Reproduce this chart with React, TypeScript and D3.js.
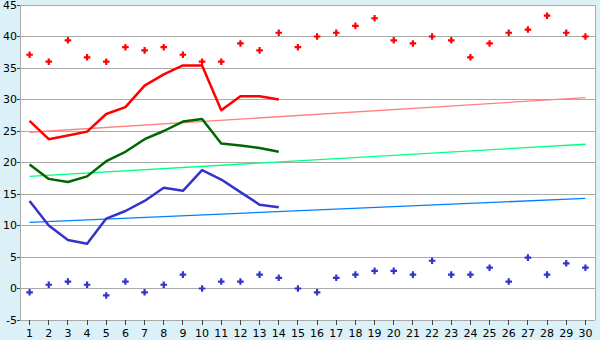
import React from "react";
import * as d3 from "d3";

const days: number[] = d3.range(1, 31);
const yTicks: number[] = [-5, 0, 5, 10, 15, 20, 25, 30, 35, 40, 45];

const maxPoints: number[] = [37.1, 36.0, 39.4, 36.7, 36.0, 38.3, 37.8, 38.3, 37.1, 36.0, 36.0, 38.9, 37.8, 40.6, 38.3, 40.0, 40.6, 41.7, 42.9, 39.4, 38.9, 40.0, 39.4, 36.7, 38.9, 40.6, 41.1, 43.3, 40.6, 40.0];
const minPoints: number[] = [-0.6, 0.6, 1.1, 0.6, -1.1, 1.1, -0.6, 0.6, 2.2, 0.0, 1.1, 1.1, 2.2, 1.7, 0.0, -0.6, 1.7, 2.2, 2.8, 2.8, 2.2, 4.4, 2.2, 2.2, 3.3, 1.1, 4.9, 2.2, 4.0, 3.3];
const redLine: number[] = [26.6, 23.7, 24.3, 24.9, 27.7, 28.8, 32.2, 34.0, 35.4, 35.4, 28.3, 30.5, 30.5, 30.0];
const greenLine: number[] = [19.7, 17.4, 16.9, 17.8, 20.2, 21.7, 23.7, 25.0, 26.5, 26.9, 23.0, 22.7, 22.3, 21.7];
const blueLine: number[] = [13.9, 10.0, 7.7, 7.1, 11.1, 12.3, 13.9, 16.0, 15.5, 18.8, 17.3, 15.3, 13.3, 12.9];
const redTrend: number[] = [24.8, 30.3];
const greenTrend: number[] = [17.8, 22.9];
const blueTrend: number[] = [10.5, 14.3];

export default function App() {
  const W = 600, H = 340;
  const left = 20, right = 595, top = 5, bottom = 320;
  const x = d3.scalePoint<number>().domain(days).range([left, right]).padding(0.5);
  const y = d3.scaleLinear().domain([-5, 45]).range([bottom, top]);
  const line = d3.line<[number, number]>().x(d => x(d[0]) as number).y(d => y(d[1]));
  const toPts = (arr: number[]) => arr.map((v, i) => [days[i], v] as [number, number]);
  const trendPts = (t: number[]) => [[days[0], t[0]], [days[days.length - 1], t[1]]] as [number, number][];
  const marker = d3.symbol().type(d3.symbolCross).size(24)() as string;
  const font = "DejaVu Sans, Verdana, sans-serif";

  return (
    <svg width={W} height={H} style={{ position: "absolute", left: 0, top: 0 }}>
      <rect x={0} y={0} width={W} height={H} fill="#dbf0f7" />
      <rect x={left} y={top} width={right - left} height={bottom - top} fill="#ffffff" />
      {yTicks.map(t => (
        <g key={t}>
          <line x1={left} x2={right} y1={y(t)} y2={y(t)} stroke="#aaaaaa" strokeWidth={1} shapeRendering="crispEdges" />
          <line x1={left - 3} x2={left} y1={y(t)} y2={y(t)} stroke="#444444" strokeWidth={1} shapeRendering="crispEdges" />
          <text x={17} y={y(t)} dy="0.35em" textAnchor="end" fontFamily={font} fontSize={11} fill="#000">{t}</text>
        </g>
      ))}
      <line x1={left} x2={left} y1={top} y2={bottom} stroke="#aaaaaa" shapeRendering="crispEdges" />
      <line x1={right} x2={right} y1={top} y2={bottom} stroke="#aaaaaa" shapeRendering="crispEdges" />
      {days.map(d => (
        <g key={d}>
          <line x1={x(d)} x2={x(d)} y1={bottom} y2={bottom + 5} stroke="#444444" shapeRendering="crispEdges" />
          <text x={x(d)} y={337} textAnchor="middle" fontFamily={font} fontSize={11} fill="#000">{d}</text>
        </g>
      ))}
      <path d={line(trendPts(redTrend)) as string} fill="none" stroke="#ff8080" strokeWidth={1.3} />
      <path d={line(trendPts(greenTrend)) as string} fill="none" stroke="#00ff80" strokeWidth={1.3} />
      <path d={line(trendPts(blueTrend)) as string} fill="none" stroke="#0080ff" strokeWidth={1.3} />
      <path d={line(toPts(redLine)) as string} fill="none" stroke="#ff0000" strokeWidth={2.5} strokeLinejoin="round" />
      <path d={line(toPts(greenLine)) as string} fill="none" stroke="#006600" strokeWidth={2.5} strokeLinejoin="round" />
      <path d={line(toPts(blueLine)) as string} fill="none" stroke="#3333cc" strokeWidth={2.5} strokeLinejoin="round" />
      {maxPoints.map((v, i) => (
        <path key={"mx" + i} d={marker} transform={`translate(${x(days[i])},${y(v)})`} fill="#ff0000" />
      ))}
      {minPoints.map((v, i) => (
        <path key={"mn" + i} d={marker} transform={`translate(${x(days[i])},${y(v)})`} fill="#3333cc" />
      ))}
    </svg>
  );
}
